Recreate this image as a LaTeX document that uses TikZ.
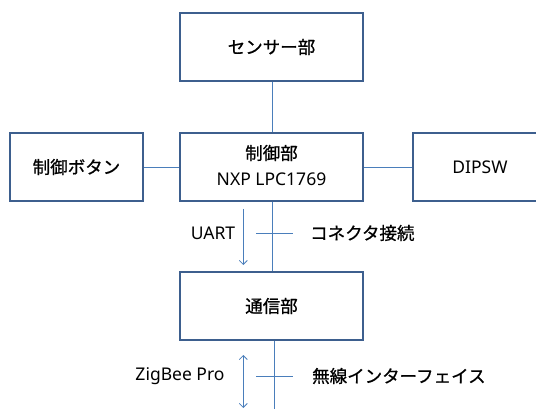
\documentclass[tikz,border=0pt]{standalone}
\usepackage{fontspec}
\setmainfont{Noto Sans}
\newfontfamily\jp[FakeBold=0.8]{Noto Sans CJK JP}
\usetikzlibrary{arrows.meta}
\definecolor{boxline}{HTML}{3D5F8E}
\definecolor{conn}{HTML}{4A7EBB}
\tikzset{
  blk/.style={draw=boxline, line width=1.8pt, fill=white, inner sep=0pt},
  wire/.style={draw=conn, line width=0.9pt},
  arr/.style={draw=conn, line width=0.8pt},
  lbl/.style={inner sep=0pt, font=\fontsize{17.5}{20}\selectfont},
  jlbl/.style={inner sep=0pt, font=\jp\fontsize{17.5}{21}\selectfont},
}
\begin{document}
\begin{tikzpicture}[x=1pt,y=-1pt]
\useasboundingbox (0,0) rectangle (536,409);
\clip (0,0) rectangle (536,409);
% boxes
\node[blk, minimum width=183pt, minimum height=68pt] (sens) at (271.5,47) {};
\node[blk, minimum width=183pt, minimum height=68pt] (ctrl) at (271.5,167) {};
\node[blk, minimum width=133pt, minimum height=68pt] (btn) at (76.5,167) {};
\node[blk, minimum width=134pt, minimum height=68pt] (dip) at (480,167) {};
\node[blk, minimum width=183pt, minimum height=68pt] (comm) at (271.5,306) {};
% texts
\node[jlbl] (tsens) at (sens.center) {センサー部};
\node[jlbl] (tbtn) at (btn.center) {制御ボタン};
\node[lbl] (tdip) at (dip.center) {DIPSW};
\node[jlbl] (tctrl) at (271.5,153) {制御部};
\node[lbl] (tnxp) at (271.5,179) {NXP LPC1769};
\node[jlbl] (tcomm) at (comm.center) {通信部};
% connectors
\draw[wire] (sens.south -| 272,0) -- (ctrl.north -| 272,0);
\draw[wire] (btn.east) -- (ctrl.west);
\draw[wire] (ctrl.east) -- (dip.west);
\draw[wire] (ctrl.south -| 272,0) -- (comm.north -| 272,0);
\coordinate (bot) at (274,412);
\draw[wire] (comm.south -| bot) -- (bot);
% UART side
\coordinate (u1) at (243.3,209);
\coordinate (u2) at (243.3,265);
\draw[arr, -{Straight Barb[length=4pt,width=8pt]}] (u1) -- (u2);
\coordinate (t1a) at (256,233);
\coordinate (t1b) at (293,233);
\draw[wire] (t1a) -- (t1b);
\node[lbl] (uart) at (213,233) {UART};
\node[jlbl, anchor=west] (conn) at (310,233) {コネクタ接続};
% ZigBee side
\coordinate (z1) at (243.3,355);
\coordinate (z2) at (243.3,408);
\draw[arr, {Straight Barb[length=4pt,width=8pt]}-{Straight Barb[length=4pt,width=8pt]}] (z1) -- (z2);
\coordinate (t2a) at (256,376);
\coordinate (t2b) at (293,376);
\draw[wire] (t2a) -- (t2b);
\node[lbl] (zig) at (180,376) {ZigBee Pro};
\node[jlbl, anchor=west] (wl) at (312,376) {無線インターフェイス};
\end{tikzpicture}
\end{document}
